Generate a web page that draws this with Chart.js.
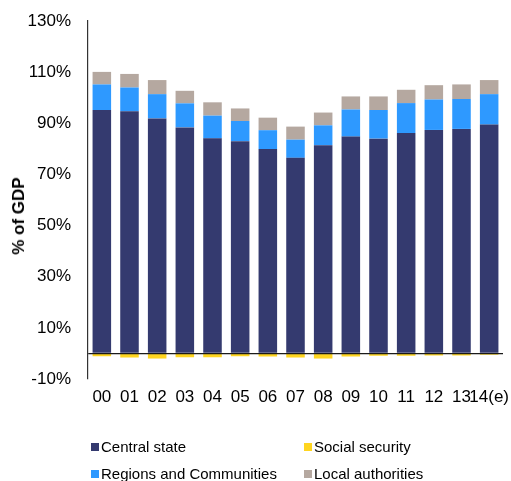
<!DOCTYPE html>
<html>
<head>
<meta charset="utf-8">
<script src="https://cdn.jsdelivr.net/npm/chart.js@4/dist/chart.umd.min.js"></script>
<style>
  html, body { margin: 0; padding: 0; background: #fff; }
  #wrap { position: relative; width: 511px; height: 481px; overflow: hidden; }
  #c { position: absolute; left: 0; top: 0; }
  #ytitle { position: absolute; left: 19px; top: 216px; transform: translate(-50%, -50%) rotate(-90deg);
    font: bold 17px "Liberation Sans", Arial, sans-serif; color: #000; white-space: nowrap; }
  .lg { position: absolute; font: 15px "Liberation Sans", Arial, sans-serif; color: #000; white-space: nowrap; line-height: 18px; }
  .sq { position: absolute; width: 8px; height: 8px; }
</style>
</head>
<body>
<div id="wrap">
  <canvas id="c" width="511" height="481"></canvas>
  <div id="ytitle">% of GDP</div>
  <div id="legend"></div>
</div>
<script>
const categories = ["00","01","02","03","04","05","06","07","08","09","10","11","12","13","14(e)"];
const centralState = [95.2, 94.7, 91.9, 88.4, 84.1, 83.0, 79.9, 76.5, 81.4, 84.8, 84.0, 86.2, 87.4, 87.8, 89.5];
const socialSecurity = [-1.1, -1.6, -2.0, -1.5, -1.5, -1.1, -1.2, -1.6, -2.0, -1.2, -0.9, -0.9, -0.8, -0.8, -0.5];
const regionsCommunities = [10.0, 9.3, 9.5, 9.4, 8.9, 7.9, 7.4, 7.1, 7.8, 10.6, 11.2, 11.7, 11.9, 11.7, 11.9];
const localAuthorities = [4.9, 5.3, 5.5, 4.9, 5.2, 4.9, 4.9, 5.1, 5.0, 5.1, 5.3, 5.2, 5.6, 5.7, 5.5];
const yTicks = [-10, 0, 10, 30, 50, 70, 90, 110, 130];

const FONT = '"Liberation Sans", Arial, sans-serif';
const barOpts = { categoryPercentage: 1, barPercentage: 0.67, borderWidth: 0 };

const chart = new Chart(document.getElementById('c'), {
  type: 'bar',
  data: {
    labels: categories,
    datasets: [
      Object.assign({ label: 'Central state', data: centralState, backgroundColor: '#343A6F' }, barOpts),
      Object.assign({ label: 'Social security', data: socialSecurity, backgroundColor: '#FFD51F' }, barOpts),
      Object.assign({ label: 'Regions and Communities', data: regionsCommunities, backgroundColor: '#2E99FF' }, barOpts),
      Object.assign({ label: 'Local authorities', data: localAuthorities, backgroundColor: '#B5A8A0' }, barOpts)
    ]
  },
  options: {
    responsive: false,
    animation: false,
    events: [],
    layout: { padding: { top: 21, right: 8, left: 0, bottom: 0 } },
    plugins: { legend: { display: false }, tooltip: { enabled: false }, title: { display: false } },
    scales: {
      x: {
        stacked: true,
        grid: { display: false, drawTicks: false },
        border: { display: false },
        ticks: { autoSkip: false, maxRotation: 0, minRotation: 0, padding: 8, color: '#000', font: { family: FONT, size: 17 } },
        afterFit: (s) => { s.height = 102; s.paddingLeft = 0; s.paddingRight = 0; }
      },
      y: {
        stacked: true,
        min: -10,
        max: 130,
        afterBuildTicks: (s) => { s.ticks = yTicks.map(v => ({ value: v })); },
        grid: {
          drawTicks: true,
          tickLength: 14,
          tickColor: 'rgba(0,0,0,0)',
          z: 1,
          lineWidth: 1.2,
          color: (ctx) => (ctx.tick && ctx.tick.value === 0) ? '#1a1a1a' : 'rgba(0,0,0,0)'
        },
        border: { display: true, color: '#333', width: 1.2, z: 2 },
        ticks: {
          padding: 3,
          color: '#000',
          font: { family: FONT, size: 17 },
          callback: (v) => v === 0 ? '' : v + '%'
        },
        afterFit: (s) => { s.width = 88; }
      }
    }
  }
});

// HTML legend built from the chart's datasets (2 x 2 grid)
const legendPos = [
  { ds: 0, x: 91, y: 447 },
  { ds: 1, x: 304, y: 447 },
  { ds: 2, x: 91, y: 474 },
  { ds: 3, x: 304, y: 474 }
];
const lg = document.getElementById('legend');
legendPos.forEach(p => {
  const ds = chart.data.datasets[p.ds];
  const sq = document.createElement('div');
  sq.className = 'sq';
  sq.style.left = p.x + 'px';
  sq.style.top = (p.y - 4) + 'px';
  sq.style.background = ds.backgroundColor;
  lg.appendChild(sq);
  const t = document.createElement('div');
  t.className = 'lg';
  t.style.left = (p.x + 10) + 'px';
  t.style.top = (p.y - 9) + 'px';
  t.textContent = ds.label;
  lg.appendChild(t);
});
</script>
</body>
</html>
